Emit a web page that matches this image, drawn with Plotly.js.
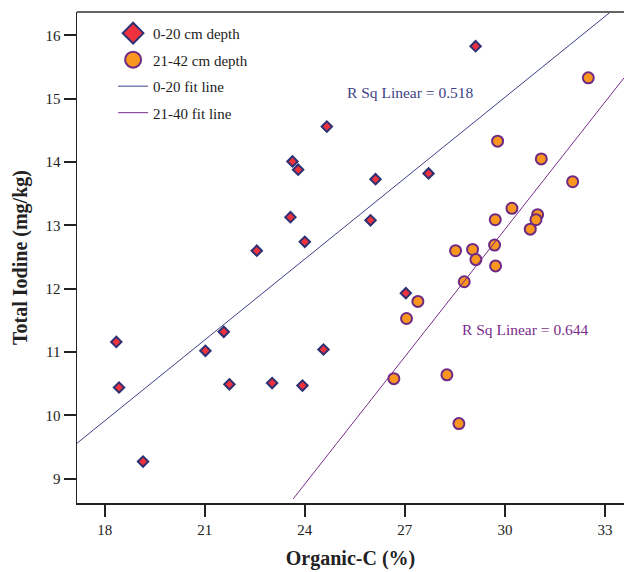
<!DOCTYPE html>
<html>
<head>
<meta charset="utf-8">
<script src="https://cdn.plot.ly/plotly-3.0.1.min.js"></script>
<style>html,body{margin:0;padding:0;background:#fff;}#chart{width:624px;height:572px;}</style>
</head>
<body>
<div id="chart"></div>
<script>
// 0-20 cm depth (diamonds)
const shallowC = [18.35, 18.43, 19.15, 21.02, 21.57, 21.74, 23.02, 23.93, 24.56, 24.66,
                  23.63, 23.80, 26.12, 23.57, 25.97, 24.00, 22.56, 29.12, 27.71, 27.03];
const shallowI = [11.16, 10.44, 9.27, 11.02, 11.32, 10.49, 10.51, 10.47, 11.04, 14.56,
                  14.01, 13.88, 13.73, 13.13, 13.08, 12.74, 12.60, 15.83, 13.82, 11.93];
// 21-42 cm depth (circles)
const deepC = [29.78, 31.09, 32.03, 30.21, 29.71, 30.98, 30.93, 30.76, 29.69, 28.52,
               29.03, 29.13, 29.72, 28.78, 27.39, 27.05, 26.67, 28.26, 28.62, 32.50];
const deepI = [14.33, 14.05, 13.69, 13.27, 13.09, 13.17, 13.09, 12.94, 12.69, 12.60,
               12.62, 12.46, 12.36, 12.11, 11.80, 11.53, 10.58, 10.64, 9.87, 15.33];
// fit line end points
const fit1X = [17.17, 33.14];
const fit1Y = [9.56, 16.36];
const fit2X = [23.65, 33.57];
const fit2Y = [8.68, 15.33];
const xTicks = [18, 21, 24, 27, 30, 33];
const yTicks = [9, 10, 11, 12, 13, 14, 15, 16];
const seriesNames = ['0-20 cm depth', '21-42 cm depth', '0-20 fit line', '21-40 fit line'];
const rsq1 = 'R Sq Linear = 0.518';
const rsq2 = 'R Sq Linear = 0.644';

const FONT = 'Liberation Serif, "Times New Roman", serif';
const NAVY = '#2e3172';
const PURPLE = '#6e2b86';
const diamondM = {symbol: 'diamond', color: '#f0323f', line: {color: NAVY, width: 2}};
const circleM = {symbol: 'circle', color: '#f8961e', line: {color: PURPLE, width: 2}};
const line1 = {color: '#3d3f86', width: 1};
const line2 = {color: '#7b2d8c', width: 1};

const traces = [
  {x: shallowC, y: shallowI, type: 'scatter', mode: 'markers', showlegend: false,
   marker: Object.assign({size: 8}, diamondM)},
  {x: deepC, y: deepI, type: 'scatter', mode: 'markers', showlegend: false,
   marker: Object.assign({size: 11}, circleM)},
  {x: fit1X, y: fit1Y, type: 'scatter', mode: 'lines', showlegend: false, line: line1},
  {x: fit2X, y: fit2Y, type: 'scatter', mode: 'lines', showlegend: false, line: line2},
  // legend entries (larger symbols, as in the reference legend)
  {x: [null], y: [null], type: 'scatter', mode: 'markers', name: seriesNames[0], legendgroup: 'a',
   marker: Object.assign({size: 16}, diamondM)},
  {x: [null], y: [null], type: 'scatter', mode: 'markers', name: seriesNames[1], legendgroup: 'b',
   marker: Object.assign({size: 16}, circleM)},
  {x: [null], y: [null], type: 'scatter', mode: 'lines', name: seriesNames[2], legendgroup: 'c', line: line1},
  {x: [null], y: [null], type: 'scatter', mode: 'lines', name: seriesNames[3], legendgroup: 'd', line: line2}
];

const layout = {
  width: 624, height: 572,
  margin: {l: 77, r: 0, t: 12, b: 69},
  paper_bgcolor: '#fff', plot_bgcolor: '#fff',
  font: {family: FONT, size: 15, color: '#222'},
  showlegend: true,
  legend: {x: 0.066, y: 0.99, xanchor: 'left', yanchor: 'top', bgcolor: 'rgba(0,0,0,0)',
           traceorder: 'grouped', tracegroupgap: 4,
           font: {family: FONT, size: 15, color: '#222'}},
  xaxis: {range: [17.17, 33.57], tickvals: xTicks, ticktext: xTicks.map(String),
          showgrid: false, zeroline: false, showline: true, linecolor: '#222', linewidth: 1.5,
          ticks: 'outside', ticklen: 12, tickwidth: 2, tickcolor: '#222',
          tickfont: {family: FONT, size: 15, color: '#222'},
          title: {text: '<b>Organic-C (%)</b>', font: {family: FONT, size: 20, color: '#222'}, standoff: 14},
          automargin: false},
  yaxis: {range: [8.616, 16.37], tickvals: yTicks, ticktext: yTicks.map(String),
          showgrid: false, zeroline: false, showline: true, linecolor: '#222', linewidth: 1.5,
          ticks: 'outside', ticklen: 12, tickwidth: 2, tickcolor: '#222',
          tickfont: {family: FONT, size: 15, color: '#222'},
          title: {text: '<b>Total Iodine (mg/kg)</b>', font: {family: FONT, size: 20, color: '#222'}, standoff: 12},
          automargin: false},
  shapes: [{type: 'line', xref: 'paper', yref: 'paper', x0: 0, x1: 1, y0: 1, y1: 1,
            line: {color: '#333', width: 1.5}}],
  annotations: [
    {x: 27.16, y: 15.10, xref: 'x', yref: 'y', text: rsq1, showarrow: false,
     font: {family: FONT, size: 15.5, color: '#3d3f86'}},
    {x: 30.62, y: 11.35, xref: 'x', yref: 'y', text: rsq2, showarrow: false,
     font: {family: FONT, size: 15.5, color: '#7b2d8c'}}
  ],
  hovermode: false
};

Plotly.newPlot('chart', traces, layout, {displayModeBar: false, staticPlot: true});
</script>
</body>
</html>
